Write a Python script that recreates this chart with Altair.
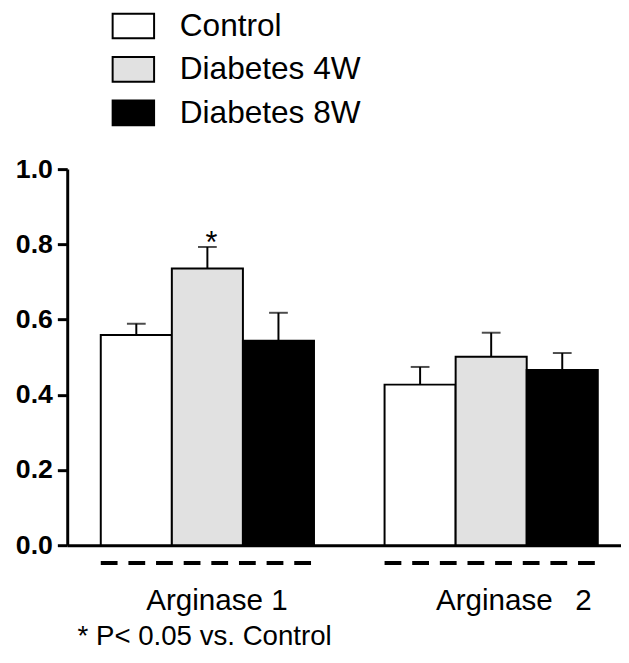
import altair as alt
import pandas as pd

FONT = "Liberation Sans"

genes = ["Arginase 1", "Arginase \u00a0\u20092"]
groups = ["Control", "Diabetes 4W", "Diabetes 8W"]
fills = ["#ffffff", "#e1e1e1", "#000000"]

mean_arg1 = [0.559, 0.736, 0.544]
sem_arg1 = [0.030, 0.057, 0.074]
mean_arg2 = [0.427, 0.501, 0.466]
sem_arg2 = [0.047, 0.064, 0.045]
stars_arg1 = ["", "*", ""]
stars_arg2 = ["", "", ""]
footnote = "* P< 0.05 vs. Control"

rows = []
for gene, means, sems, stars in [
    (genes[0], mean_arg1, sem_arg1, stars_arg1),
    (genes[1], mean_arg2, sem_arg2, stars_arg2),
]:
    for g, m, s, st in zip(groups, means, sems, stars):
        rows.append({"gene": gene, "group": g, "mean": m, "upper": m + s, "star": st})
df = pd.DataFrame(rows)
dash_df = pd.DataFrame({"gene": genes})

xscale = alt.Scale(paddingInner=0.2487, paddingOuter=0.1, align=0.591)
x_enc = alt.X(
    "gene:N",
    sort=genes,
    scale=xscale,
    title=None,
    axis=alt.Axis(
        domainWidth=3,
        domainColor="black",
        ticks=False,
        tickSize=0,
        labelFont=FONT,
        labelFontSize=30,
        labelColor="black",
        labelAngle=0,
        labelAlign="left",
        labelBaseline="alphabetic",
        labelOffset={"condition": {"test": f"datum.value == '{genes[0]}'", "value": -62}, "value": -56},
        labelPadding=65,
        labelLimit=500,
        grid=False,
    ),
)
xoff = alt.XOffset("group:N", sort=groups, scale=alt.Scale(paddingInner=0, paddingOuter=0))
y_enc = alt.Y(
    "mean:Q",
    scale=alt.Scale(domain=[0, 1], nice=False),
    title=None,
    axis=alt.Axis(
        values=[0, 0.2, 0.4, 0.6, 0.8, 1.0],
        format=".1f",
        domainWidth=3,
        domainColor="black",
        tickWidth=3,
        tickSize=10,
        tickColor="black",
        labelFont=FONT,
        labelFontSize=27,
        labelFontWeight="bold",
        labelColor="black",
        labelPadding=5,
        grid=False,
    ),
)

base = alt.Chart(df)

bars = base.mark_bar(stroke="black", strokeWidth=2).encode(
    x=x_enc,
    xOffset=xoff,
    y=y_enc,
    fill=alt.Fill(
        "group:N",
        sort=groups,
        scale=alt.Scale(domain=groups, range=fills),
        title=None,
    ),
)

err_line = base.mark_rule(color="black", strokeWidth=2).encode(
    x=alt.X("gene:N", sort=genes),
    xOffset=xoff,
    y="mean:Q",
    y2="upper:Q",
)

err_cap = base.mark_tick(color="black", size=19, thickness=2).encode(
    x=alt.X("gene:N", sort=genes),
    xOffset=xoff,
    y="upper:Q",
)

star = base.transform_filter(alt.datum.star != "").mark_text(
    font=FONT, fontSize=31, color="black", baseline="alphabetic", dy=6, dx=4
).encode(
    x=alt.X("gene:N", sort=genes),
    xOffset=xoff,
    y="upper:Q",
    text="star:N",
)

dashes = alt.Chart(dash_df).mark_rule(
    color="black", strokeWidth=4, strokeDash=[17, 11], strokeCap="butt"
).encode(
    x=alt.X("gene:N", sort=genes, bandPosition=0),
    x2=alt.X2("gene:N", bandPosition=1),
    y=alt.value(399),
)

chart = (
    alt.layer(bars, err_line, err_cap, star, dashes)
    .properties(
        width=561,
        height=381,
        autosize=alt.AutoSizeParams(type="none"),
        padding={"left": 60, "top": 159, "right": 0, "bottom": 107},
        title=alt.TitleParams(
            text=footnote,
            orient="bottom",
            anchor="start",
            font=FONT,
            fontSize=28,
            fontWeight="normal",
            color="black",
            dx=63,
            offset=8,
        ),
    )
    .configure_view(stroke=None)
    .configure_legend(
        orient="none",
        legendX=45,
        legendY=-167,
        padding=0,
        symbolType="M-1,-0.595H1V0.595H-1Z",
        symbolSize=1764,
        symbolStrokeColor="black",
        symbolStrokeWidth=2,
        labelFont=FONT,
        labelFontSize=32,
        labelColor="black",
        labelOffset=25,
        labelLimit=500,
        rowPadding=5,
    )
)

chart.save("out.html", embed_options={"renderer": "svg", "actions": False})
